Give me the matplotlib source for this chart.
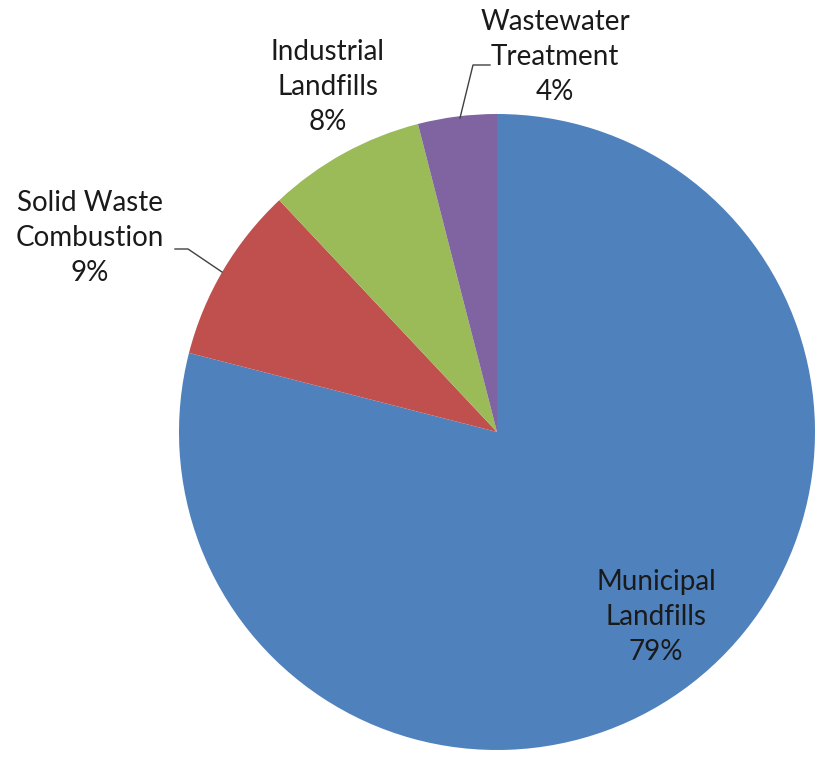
import matplotlib
matplotlib.use("Agg")
import matplotlib.pyplot as plt

# Waste sector emissions share
labels = ["Municipal\nLandfills", "Solid Waste\nCombustion", "Industrial\nLandfills", "Wastewater\nTreatment"]
shares = [79, 9, 8, 4]
colors = ["#4F81BD", "#C0504D", "#9BBB59", "#8064A2"]

W, H = 828, 769
fig = plt.figure(figsize=(W / 100, H / 100), dpi=100)
ax = fig.add_axes([0, 0, 1, 1])

cx, cy, r = 497, H - 432, 318
ax.pie(shares, colors=colors, startangle=90, counterclock=False,
       center=(cx, cy), radius=r, wedgeprops=dict(linewidth=0), frame=True)
ax.set_xlim(0, W)
ax.set_ylim(0, H)
ax.set_aspect("equal")
ax.axis("off")

# label centres (pixel coords from top-left) and leader lines
label_pos = [(656, 617), (90, 238), (328, 87), (555, 57)]
for lab, s, (px, py) in zip(labels, shares, label_pos):
    ax.text(px, H - py, f"{lab}\n{s}%", ha="center", va="center",
            fontsize=20, family="Lato", color="#1a1a1a", linespacing=1.45)

ax.plot([175, 188, 222], [H - 249, H - 249, H - 272], color="#404040", lw=1)
ax.plot([490, 473, 460], [H - 65, H - 65, H - 118], color="#404040", lw=1)

fig.savefig("out.png", dpi=100)
